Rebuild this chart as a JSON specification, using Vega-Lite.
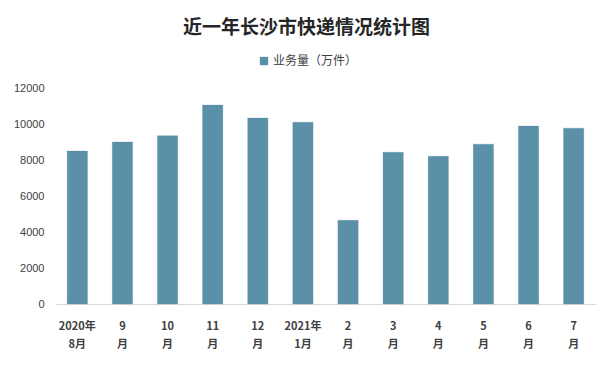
{
  "$schema": "https://vega.github.io/schema/vega-lite/v6.json",
  "width": 541,
  "height": 216,
  "autosize": {"type": "none"},
  "padding": {"left": 55, "top": 88, "right": 20, "bottom": 68},
  "background": "white",
  "title": {
    "text": "近一年长沙市快递情况统计图",
    "anchor": "middle",
    "dx": -19,
    "offset": 17,
    "font": "Noto Sans CJK SC",
    "fontSize": 19,
    "fontWeight": "bold",
    "color": "#262626"
  },
  "data": {
    "values": [
      {"month": "2020年|8月", "series": "业务量（万件）", "value": 8500},
      {"month": "9|月", "series": "业务量（万件）", "value": 9000},
      {"month": "10|月", "series": "业务量（万件）", "value": 9350},
      {"month": "11|月", "series": "业务量（万件）", "value": 11050},
      {"month": "12|月", "series": "业务量（万件）", "value": 10330},
      {"month": "2021年|1月", "series": "业务量（万件）", "value": 10100},
      {"month": "2|月", "series": "业务量（万件）", "value": 4650},
      {"month": "3|月", "series": "业务量（万件）", "value": 8430},
      {"month": "4|月", "series": "业务量（万件）", "value": 8210},
      {"month": "5|月", "series": "业务量（万件）", "value": 8880},
      {"month": "6|月", "series": "业务量（万件）", "value": 9890},
      {"month": "7|月", "series": "业务量（万件）", "value": 9770}
    ]
  },
  "mark": {"type": "bar", "stroke": "#4f8299", "strokeWidth": 0.5, "strokeDash": [1, 1]},
  "encoding": {
    "x": {
      "field": "month",
      "type": "nominal",
      "sort": null,
      "scale": {"paddingInner": 0.55, "paddingOuter": 0.27},
      "axis": {
        "title": null,
        "labelAngle": 0,
        "labelExpr": "split(datum.value, '|')",
        "labelFont": "Noto Sans CJK SC",
        "labelFontSize": 11,
        "labelFontWeight": "bold",
        "labelColor": "#404040",
        "labelLineHeight": 18,
        "labelPadding": 16,
        "ticks": false,
        "domainColor": "#d9d9d9",
        "domainWidth": 1
      }
    },
    "y": {
      "field": "value",
      "type": "quantitative",
      "scale": {"domain": [0, 12000]},
      "axis": {
        "title": null,
        "values": [0, 2000, 4000, 6000, 8000, 10000, 12000],
        "format": "d",
        "grid": false,
        "domain": false,
        "ticks": false,
        "labelPadding": 11,
        "labelFont": "Liberation Sans",
        "labelFontSize": 11,
        "labelColor": "#404040"
      }
    },
    "color": {
      "field": "series",
      "type": "nominal",
      "scale": {"range": ["#5b91a8"]},
      "legend": {
        "title": null,
        "orient": "none",
        "legendX": 203,
        "legendY": -33,
        "symbolType": "square",
        "symbolSize": 70,
        "symbolStrokeWidth": 0,
        "labelFont": "Noto Sans CJK SC",
        "labelFontSize": 12,
        "labelColor": "#404040",
        "labelOffset": 3
      }
    }
  },
  "config": {"view": {"stroke": null}}
}
